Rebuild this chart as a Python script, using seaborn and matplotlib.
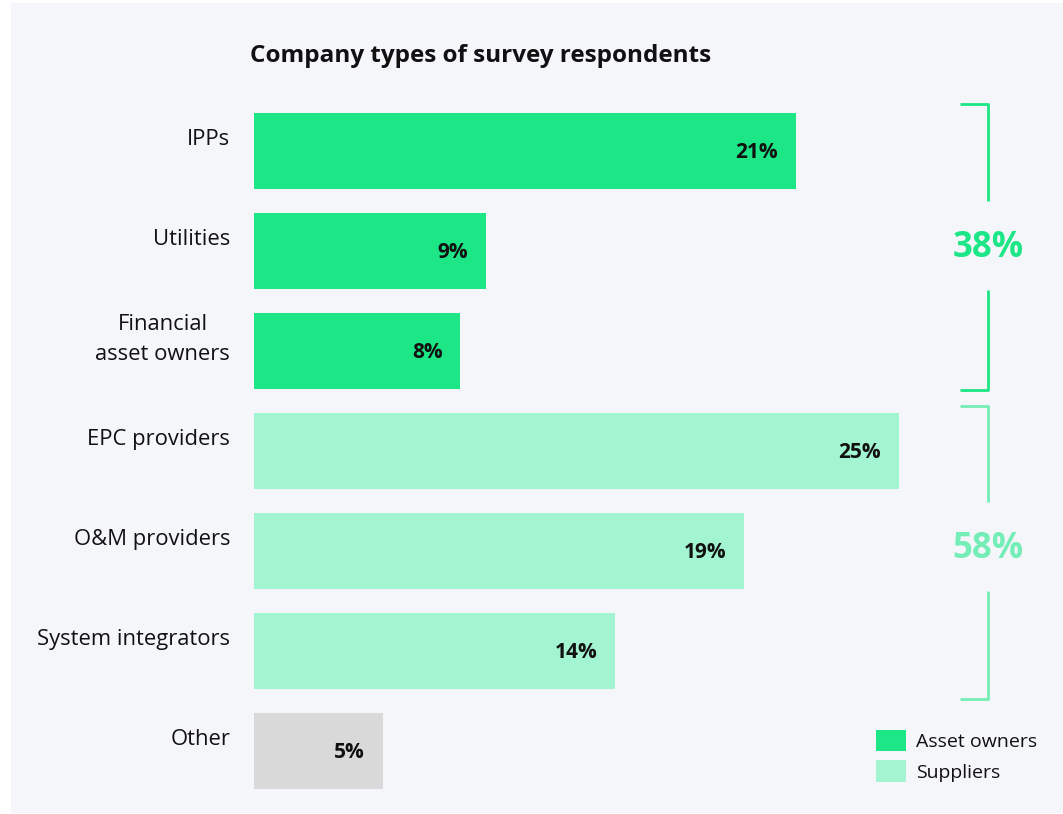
import matplotlib
matplotlib.use("Agg")
import matplotlib.pyplot as plt
from matplotlib.patches import Rectangle, Patch
import seaborn as sns
import pandas as pd

# Survey data
categories = ["IPPs", "Utilities", "Financial\nasset owners", "EPC providers",
              "O&M providers", "System integrators", "Other"]
shares = [21, 9, 8, 25, 19, 14, 5]
groups = ["Asset owners", "Asset owners", "Asset owners", "Suppliers",
          "Suppliers", "Suppliers", "Other"]
group_totals = {"Asset owners": 38, "Suppliers": 58}

COL_OWNER = "#1CE685"
COL_SUPPLIER = "#A2F5D0"
COL_OTHER = "#D9D9D9"
COL_SUPPLIER_DARK = "#74EDB6"
BG = "#F5F6FA"
INK = "#111111"
palette = {"Asset owners": COL_OWNER, "Suppliers": COL_SUPPLIER, "Other": COL_OTHER}

sns.set_theme(style="white")
plt.rcParams["font.family"] = ["Open Sans", "DejaVu Sans"]

W, H = 1063, 814
fig = plt.figure(figsize=(W / 100, H / 100), dpi=100, facecolor="white")
fig.patches.append(Rectangle((11 / W, 1 / H), 1 - 11 / W, 1 - 4 / H,
                             transform=fig.transFigure, facecolor=BG,
                             edgecolor="none", zorder=-10))

px_per_unit = 25.8
ax_left, ax_top, ax_bottom = 254, 101, 801
ax = fig.add_axes([ax_left / W, 1 - ax_bottom / H, (W - ax_left) / W,
                   (ax_bottom - ax_top) / H])
ax.set_facecolor("none")

df = pd.DataFrame({"category": categories, "share": shares, "group": groups})
sns.barplot(data=df, x="share", y="category", hue="group", palette=palette,
            dodge=False, width=0.76, legend=False, saturation=1,
            linewidth=0, edgecolor="none", ax=ax)

ax.set_xlim(0, (W - ax_left) / px_per_unit)
ax.set_ylim(6.5, -0.5)
ax.set_xlabel("")
ax.set_ylabel("")
ax.set_xticks([])
ax.set_yticks([])
for s in ax.spines.values():
    s.set_visible(False)

def to_x(px):
    return (px - ax_left) / px_per_unit

# Category labels beside each bar (raised a little) and value labels inside the bars
for i, (cat, val) in enumerate(zip(categories, shares)):
    ax.text(to_x(230), i - 0.115, cat, ha="right", va="center", fontsize=15.8,
            color=INK, multialignment="center", linespacing=1.6,
            clip_on=False)
    ax.text(val - 18 / px_per_unit, i + 0.02, f"{val}%", ha="right",
            va="center", fontsize=15, fontweight="bold", color=INK)

# Group brackets with totals
def bracket(y_top, y_bot, gap_top, gap_bot, y_text, color, total):
    x0, x1 = to_x(960), to_x(988)
    kw = dict(color=color, lw=2.0, clip_on=False, solid_capstyle="butt")
    ax.plot([x0, x1, x1], [y_top, y_top, gap_top], **kw)
    ax.plot([x1, x1, x0], [gap_bot, y_bot, y_bot], **kw)
    ax.text(x1, y_text, f"{total}%", ha="center", va="center", fontsize=25,
            fontweight="bold", color=color, clip_on=False)

bracket(-0.47, 2.39, 0.50, 1.39, 0.97, COL_OWNER, group_totals["Asset owners"])
bracket(2.55, 5.48, 3.51, 4.40, 3.98, COL_SUPPLIER_DARK, group_totals["Suppliers"])

# Title
fig.text(250 / W, 1 - 56 / H, "Company types of survey respondents",
         ha="left", va="center", fontsize=17.5, fontweight="bold", color=INK)

# Legend
handles = [Patch(facecolor=COL_OWNER, edgecolor="none", label="Asset owners"),
           Patch(facecolor=COL_SUPPLIER, edgecolor="none", label="Suppliers")]
fig.legend(handles=handles, loc="upper left",
           bbox_to_anchor=(860 / W, 1 - 714 / H), frameon=False,
           fontsize=14, handlelength=1.55, handleheight=1.3,
           handletextpad=0.55, labelspacing=0.5, borderpad=0.3,
           labelcolor=INK)

fig.savefig("out.png", dpi=100, facecolor="white")
